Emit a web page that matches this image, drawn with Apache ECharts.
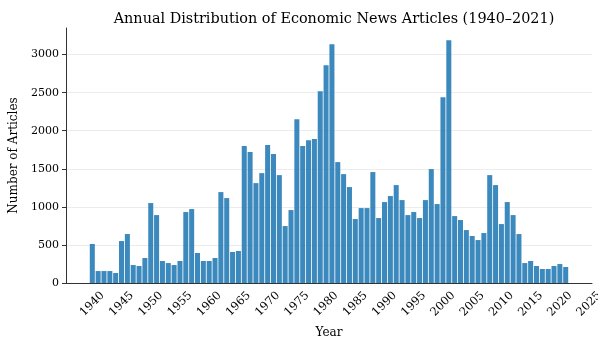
<!DOCTYPE html>
<html>
<head>
<meta charset="UTF-8">
<title>Annual Distribution of Economic News Articles</title>
<script src="https://cdn.jsdelivr.net/npm/echarts@6/dist/echarts.min.js"></script>
<style>
  html, body { margin: 0; padding: 0; background: #fff; }
  #chart { width: 598px; height: 341px; }
</style>
</head>
<body>
<div id="chart"></div>
<script>
// years with articles and their counts
var years = [
  1940, 1941, 1942, 1943, 1944, 1945, 1946, 1947, 1948, 1949,
  1950, 1951, 1952, 1953, 1954, 1955, 1956, 1957, 1958, 1959,
  1960, 1961, 1962, 1963, 1964, 1965, 1966, 1967, 1968, 1969,
  1970, 1971, 1972, 1973, 1974, 1975, 1976, 1977, 1978, 1979,
  1980, 1981, 1982, 1983, 1984, 1985, 1986, 1987, 1988, 1989,
  1990, 1991, 1992, 1993, 1994, 1995, 1996, 1997, 1998, 1999,
  2000, 2001, 2002, 2003, 2004, 2005, 2006, 2007, 2008, 2009,
  2010, 2011, 2012, 2013, 2014, 2015, 2016, 2017, 2018, 2019,
  2020, 2021
];
var counts = [
  512, 157, 157, 157, 131, 551, 643, 236, 223, 328,
  1050, 892, 289, 262, 236, 289, 932, 971, 394, 289,
  289, 328, 1194, 1115, 407, 420, 1798, 1719, 1312, 1443,
  1811, 1693, 1417, 748, 958, 2152, 1798, 1876, 1890, 2519,
  2861, 3136, 1588, 1430, 1260, 840, 984, 984, 1457, 853,
  1063, 1142, 1286, 1089, 892, 932, 853, 1089, 1496, 1037,
  2441, 3189, 879, 827, 695, 617, 564, 656, 1417, 1286,
  774, 1063, 892, 643, 262, 289, 223, 184, 184, 223,
  249, 210
];

// axis runs a little past the data on both sides (1936..2025)
var axisYears = [];
for (var y = 1936; y <= 2025; y++) axisYears.push(String(y));

var font = 'DejaVu Serif';
var chart = echarts.init(document.getElementById('chart'));

var option = {
  animation: false,
  title: {
    text: 'Annual Distribution of Economic News Articles (1940\u20132021)',
    left: 329,
    textAlign: 'center',
    top: 7,
    textStyle: { fontFamily: font, fontSize: 14.4, fontWeight: 'normal', color: '#000' }
  },
  grid: { left: 66, right: 6, top: 28, bottom: 58, outerBoundsMode: 'none', containLabel: false },
  xAxis: {
    type: 'category',
    data: axisYears,
    boundaryGap: true,
    name: 'Year',
    nameLocation: 'middle',
    nameGap: 44,
    nameTextStyle: { fontFamily: font, fontSize: 12, color: '#000' },
    axisLine: { lineStyle: { color: '#333', width: 1 } },
    axisTick: {
      alignWithLabel: true,
      length: 4,
      interval: function (i, v) { return +v % 5 === 0; },
      lineStyle: { color: '#333' }
    },
    axisLabel: {
      interval: function (i, v) { return +v % 5 === 0; },
      rotate: 45,
      align: 'center',
      verticalAlign: 'middle',
      margin: 21,
      fontFamily: font,
      fontSize: 11.5,
      color: '#000'
    },
    splitLine: { show: false }
  },
  yAxis: {
    type: 'value',
    min: 0,
    max: 3349,
    interval: 500,
    name: 'Number of Articles',
    nameLocation: 'middle',
    nameGap: 44,
    nameTextStyle: { fontFamily: font, fontSize: 12, color: '#000' },
    axisLine: { show: true, lineStyle: { color: '#333', width: 1 } },
    axisTick: { show: true, length: 4, lineStyle: { color: '#333' } },
    axisLabel: {
      showMaxLabel: false,
      margin: 7,
      fontFamily: font,
      fontSize: 11,
      color: '#000',
      formatter: function (v) { return String(v); }
    },
    splitLine: { show: true, showMaxLine: false, lineStyle: { color: '#ececec', width: 1 } }
  },
  series: [{
    type: 'bar',
    barWidth: '86%',
    itemStyle: { color: '#1f77b4', opacity: 0.87 },
    data: years.map(function (yr, i) { return [String(yr), counts[i]]; })
  }]
};

chart.setOption(option);
</script>
</body>
</html>
